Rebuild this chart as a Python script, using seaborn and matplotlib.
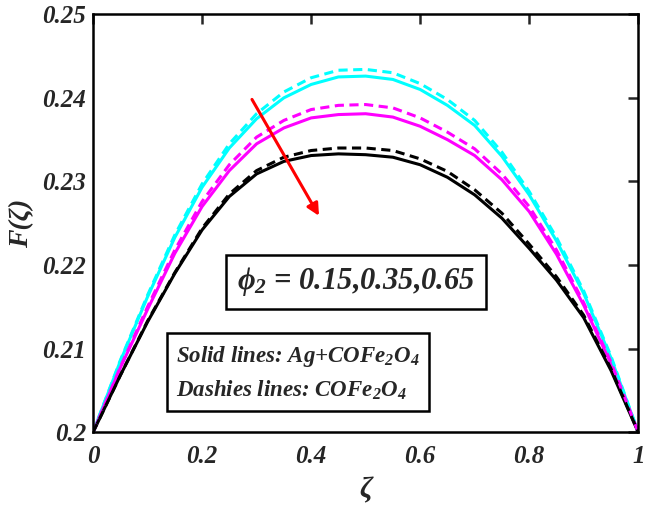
import numpy as np
import pandas as pd
import seaborn as sns
import matplotlib.pyplot as plt

# === data (F - 0.2, in units of 1e-4) ===
zeta = [0.0, 0.05, 0.1, 0.15, 0.2, 0.25, 0.3, 0.35, 0.4, 0.45, 0.5,
        0.55, 0.6, 0.65, 0.7, 0.75, 0.8, 0.85, 0.9, 0.95, 1.0]

cyan_solid = [0, 85, 162, 233, 293, 340, 375, 400, 416, 425, 426,
              422, 410, 391, 367, 330, 284, 229, 166, 89, 0]
cyan_dash = [0, 86, 164, 236, 297, 345, 381, 407, 424, 433, 434,
             430, 417, 398, 373, 335, 288, 233, 169, 91, 0]
mag_solid = [0, 77, 147, 214, 270, 313, 345, 364, 376, 380, 381,
             377, 366, 350, 331, 302, 264, 213, 152, 82, 0]
mag_dash = [0, 78, 150, 218, 276, 320, 353, 373, 386, 391, 392,
            388, 376, 359, 339, 309, 270, 218, 155, 84, 0]
blk_solid = [0, 68, 132, 190, 242, 282, 309, 324, 331, 333, 332,
             329, 320, 305, 284, 256, 220, 182, 137, 74, 0]
blk_dash = [0, 68, 133, 191, 244, 285, 313, 329, 337, 340, 340,
            337, 327, 312, 290, 262, 225, 186, 140, 76, 0]

curves = [
    (cyan_solid, "cyan", "-"),
    (mag_solid, "magenta", "-"),
    (blk_solid, "black", "-"),
    (cyan_dash, "cyan", (0, (3, 1.8))),
    (mag_dash, "magenta", (0, (3, 1.8))),
    (blk_dash, "black", (0, (3, 1.8))),
]

sns.set_style("white")
plt.rcParams["font.family"] = ["Liberation Serif", "DejaVu Serif"]
plt.rcParams["font.weight"] = "bold"
plt.rcParams["font.style"] = "italic"
plt.rcParams["mathtext.fontset"] = "custom"
plt.rcParams["mathtext.rm"] = "Liberation Serif:italic:bold"
plt.rcParams["mathtext.it"] = "Liberation Serif:italic:bold"
plt.rcParams["mathtext.bf"] = "Liberation Serif:italic:bold"

fig = plt.figure(figsize=(6.46, 5.08), dpi=100)
ax = fig.add_axes([0.144, 0.149, 0.844, 0.823])

for vals, col, ls in curves:
    y = 0.2 + np.array(vals) / 10000.0
    sns.lineplot(x=zeta, y=y, color=col, linestyle=ls, linewidth=2.2, ax=ax)

ax.set_xlim(0, 1)
ax.set_ylim(0.2, 0.25)
ax.set_xticks([0, 0.2, 0.4, 0.6, 0.8, 1])
ax.set_xticklabels(["0", "0.2", "0.4", "0.6", "0.8", "1"])
ax.set_yticks([0.2, 0.21, 0.22, 0.23, 0.24, 0.25])
ax.set_yticklabels(["0.2", "0.21", "0.22", "0.23", "0.24", "0.25"])
ax.tick_params(direction="in", length=7, width=1.8, top=True, right=True,
               labelsize=18)
ax.tick_params(axis="x", pad=9)
ax.tick_params(axis="y", pad=5)
for lab in ax.get_xticklabels() + ax.get_yticklabels():
    lab.set_fontweight("bold")
    lab.set_fontstyle("italic")
for sp in ax.spines.values():
    sp.set_linewidth(1.8)
    sp.set_color("black")

ax.set_xlabel("ζ", fontsize=21, fontweight="bold", fontstyle="italic", labelpad=6)
ax.set_ylabel("F(ζ)", fontsize=20, fontweight="bold", fontstyle="italic", labelpad=6)

# arrow
ax.annotate("", xy=(0.417, 0.2256), xytext=(0.289, 0.2401),
            arrowprops=dict(arrowstyle="-|>", color="red", lw=2.2,
                            mutation_scale=18))

ax.text(0.482, 0.2180, r"$\phi_2$ = 0.15,0.35,0.65", fontsize=22,
        fontweight="bold", fontstyle="italic", ha="center", va="center",
        bbox=dict(boxstyle="square,pad=0.35", fc="white", ec="black", lw=1.8))

ax.text(0.152, 0.2071, "Solid lines: Ag+COFe$_2$O$_4$\nDashies lines: COFe$_2$O$_4$",
        fontsize=16.5, fontweight="bold", fontstyle="italic", ha="left",
        va="center", linespacing=1.55,
        bbox=dict(boxstyle="square,pad=0.4", fc="white", ec="black", lw=1.8))

fig.savefig("out.png", dpi=100)
